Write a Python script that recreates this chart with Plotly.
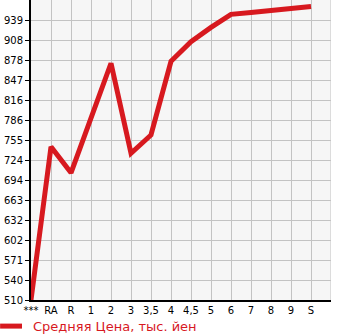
import plotly.graph_objects as go

categories = ["***", "RA", "R", "1", "2", "3", "3,5", "4", "4,5", "5", "6", "7", "8", "9", "S"]
avg_price = [510, 745, 705, 790, 873, 735, 763, 876, 906, 928, 948, 951, 954, 957, 960]
y_tick_labels = ["510", "540", "571", "602", "632", "663", "694", "724", "755",
                 "786", "816", "847", "878", "908", "939"]
y_min, y_max = 510, 970
series_name = "Средняя Цена, тыс. йен"

step = (y_max - y_min) / 15
y_tick_vals = [y_min + k * step for k in range(len(y_tick_labels))]

RED = "#d7191f"
GRID = "#c3c3c3"
FONT = "DejaVu Sans"

fig = go.Figure()
fig.add_trace(go.Scatter(
    x=list(range(len(categories))), y=avg_price, mode="lines", name=series_name,
    line=dict(color=RED, width=5), showlegend=False,
))

fig.add_shape(type="line", xref="x", yref="paper", x0=15, x1=15, y0=0, y1=1,
              line=dict(color=GRID, width=1), layer="below")

# manual legend below the plot
fig.add_shape(type="line", xref="paper", yref="paper", x0=-0.103, x1=-0.03,
              y0=-0.087, y1=-0.087, line=dict(color=RED, width=5))
fig.add_annotation(text=series_name, xref="paper", yref="paper", x=0.0, y=-0.087,
                   xanchor="left", yanchor="middle", showarrow=False,
                   font=dict(family=FONT, size=13, color=RED))

fig.update_layout(
    width=345, height=335,
    margin=dict(l=31, r=14, t=0, b=35, autoexpand=False),
    paper_bgcolor="white", plot_bgcolor="#f6f6f6",
    font=dict(family=FONT, size=10, color="black"),
    showlegend=False,
    xaxis=dict(range=[0, 15], tickmode="array",
               tickvals=list(range(len(categories))), ticktext=categories,
               showgrid=True, gridcolor=GRID, gridwidth=1,
               showline=True, linecolor="black", linewidth=2,
               ticks="", tickfont=dict(size=10), zeroline=False, fixedrange=True),
    yaxis=dict(range=[y_min, y_max], tickmode="array",
               tickvals=y_tick_vals, ticktext=y_tick_labels,
               showgrid=True, gridcolor=GRID, gridwidth=1,
               showline=True, linecolor="black", linewidth=2,
               ticks="outside", ticklen=4, tickcolor="black", tickwidth=1,
               tickfont=dict(size=10), zeroline=False, fixedrange=True),
)

fig.write_html("out.html")
